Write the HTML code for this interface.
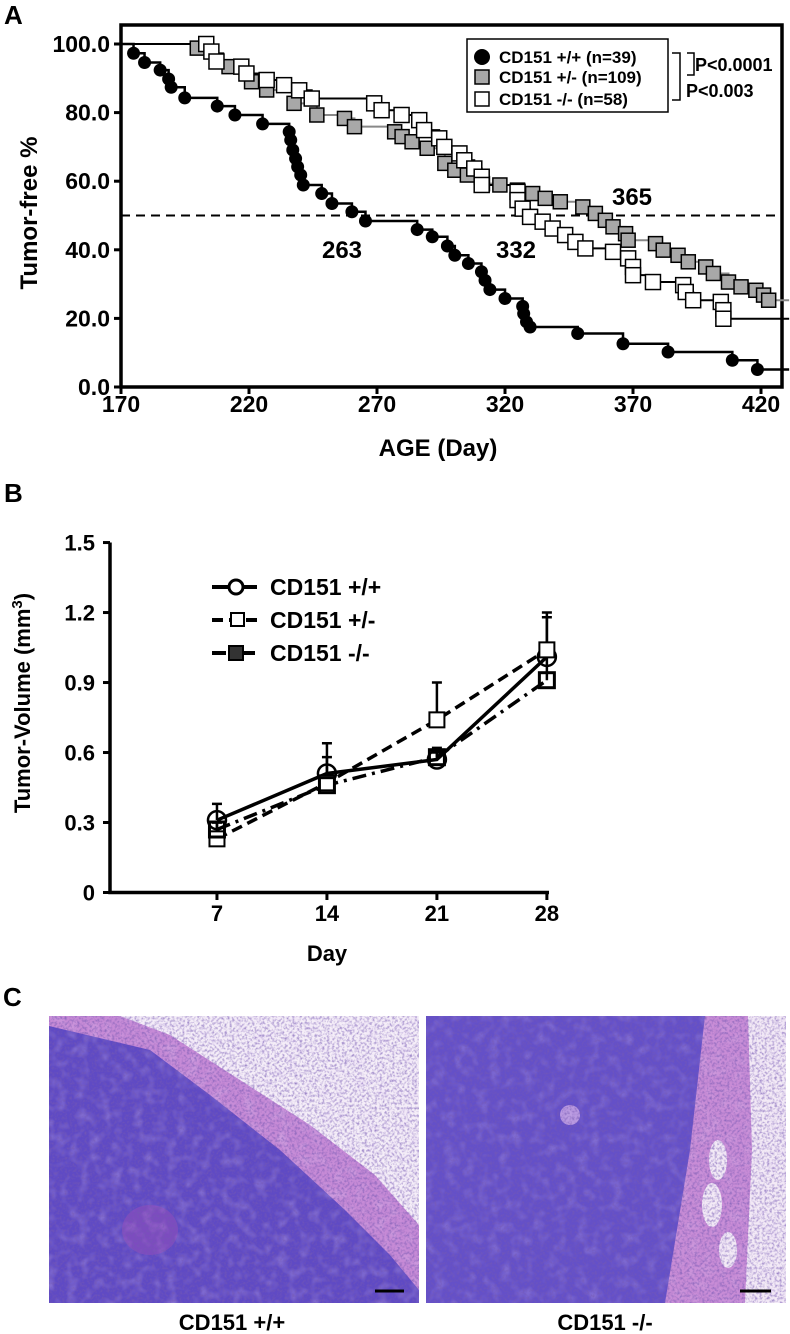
<!DOCTYPE html>
<html><head><meta charset="utf-8"><style>
html,body{margin:0;padding:0;background:#fff;width:790px;height:1334px;overflow:hidden}
svg{display:block}
text{font-family:"Liberation Sans",Arial,sans-serif;font-weight:bold;fill:#000}
</style></head><body>
<svg id="fig" width="790" height="1334" viewBox="0 0 790 1334" xmlns="http://www.w3.org/2000/svg">
<defs>
<filter id="tex" x="0" y="0" width="100%" height="100%">
<feTurbulence type="fractalNoise" baseFrequency="0.4" numOctaves="2" seed="5"/>
<feColorMatrix values="0 0 0 0 0.18  0 0 0 0 0.10  0 0 0 0 0.45  0 0 0 1.8 -0.75"/>
</filter>
<filter id="tex2" x="0" y="0" width="100%" height="100%">
<feTurbulence type="fractalNoise" baseFrequency="0.09" numOctaves="2" seed="9"/>
<feColorMatrix values="0 0 0 0 0.75  0 0 0 0 0.6  0 0 0 0 0.9  0 0 0 1.4 -0.65"/>
</filter>
<clipPath id="clipL"><rect x="49" y="1016" width="370" height="287"/></clipPath>
<clipPath id="clipR"><rect x="426" y="1016" width="360" height="287"/></clipPath>
</defs>
<g id="panelA"></g>
<g id="panelB"></g>
<g id="panelC">
 <text x="3" y="1006" font-size="26">C</text>
 <g clip-path="url(#clipL)">
  <rect x="49" y="1016" width="370" height="287" fill="#5f4ac4"/>
  <polygon points="49,1016 419,1016 419,1290 390,1255 345,1210 280,1150 210,1095 150,1050 49,1026" fill="#c68ad6"/>
  <polygon points="120,1016 419,1016 419,1225 375,1175 310,1125 240,1080 170,1035" fill="#f5eef8"/>
  <rect x="49" y="1016" width="370" height="287" filter="url(#tex2)" opacity="0.5"/>
  <ellipse cx="150" cy="1230" rx="28" ry="25" fill="#b54fb8" opacity="0.35"/>
  <rect x="49" y="1016" width="370" height="287" filter="url(#tex)" opacity="0.85"/>
  <line x1="375" y1="1291" x2="404" y2="1291" stroke="#000" stroke-width="3"/>
 </g>
 <g clip-path="url(#clipR)">
  <rect x="426" y="1016" width="360" height="287" fill="#6450c8"/>
  <polygon points="705,1016 786,1016 786,1303 665,1303 690,1150" fill="#c88cd6"/>
  <polygon points="748,1016 786,1016 786,1303 745,1303 752,1150" fill="#f3eaf6"/>
  <ellipse cx="718" cy="1160" rx="9" ry="20" fill="#f3eaf6"/>
  <ellipse cx="712" cy="1205" rx="10" ry="22" fill="#f3eaf6"/>
  <ellipse cx="728" cy="1250" rx="9" ry="18" fill="#f3eaf6"/>
  <ellipse cx="570" cy="1115" rx="10" ry="10" fill="#b898e0"/>
  <rect x="426" y="1016" width="360" height="287" filter="url(#tex2)" opacity="0.4"/>
  <rect x="426" y="1016" width="360" height="287" filter="url(#tex)" opacity="0.85"/>
  <line x1="740" y1="1291" x2="771" y2="1291" stroke="#000" stroke-width="3"/>
 </g>
 <text x="232" y="1330" font-size="22" text-anchor="middle">CD151 +/+</text>
 <text x="605" y="1330" font-size="22" text-anchor="middle">CD151 -/-</text>
</g>
</svg>
<script>
// ---------- Panel A data ----------
const wtDays = [174.9,179.2,185.3,188.6,189.6,194.9,207.6,214.5,225.3,235.7,236.3,237.1,238.2,239.0,240.2,241.2,248.4,252.4,260.2,265.5,285.7,291.6,297.5,300.4,305.7,310.8,312.2,314.1,320.0,326.9,327.3,328.4,329.8,348.4,366.1,383.7,408.8,418.6];
const wtPct = [97.3,94.6,92.4,89.8,87.4,84.3,81.9,79.3,76.7,74.4,72.0,69.1,66.6,64.2,61.8,58.9,56.4,53.5,51.1,48.4,45.9,43.8,41.1,38.4,36.0,33.6,31.1,28.4,25.8,23.5,21.4,19.0,17.5,15.6,12.6,10.2,7.8,5.1];
const hetDays = [199.8,207.3,212.2,221.0,226.9,237.6,246.5,257.3,261.2,276.9,279.8,283.7,289.6,296.5,300.4,305.3,311.2,318.0,324.9,330.8,335.7,341.6,350.4,355.3,359.2,362.2,367.1,368.1,378.8,381.8,387.6,391.6,398.4,401.4,407.3,412.2,418.0,421.0,423.0];
const hetPct = [98.8,95.3,93.4,89.0,86.6,82.7,79.3,78.3,75.9,74.4,73.0,71.5,69.6,65.2,63.2,61.8,59.3,58.9,57.4,56.4,55.0,54.0,52.5,50.6,48.6,46.7,44.7,42.8,41.8,39.9,38.4,36.5,35.0,33.1,30.6,29.2,28.2,26.8,25.3];
const koDays = [203.3,205.3,207.3,217.0,219.0,226.9,233.7,239.6,244.5,268.9,271.8,279.6,286.5,288.4,294.3,296.3,302.2,304.1,308.0,310.9,310.9,324.9,324.9,326.9,329.8,334.7,338.6,343.5,347.5,351.4,362.2,368.1,370.0,370.0,377.8,389.6,390.6,393.5,404.3,405.3,405.3];
const koPct = [100,97.8,94.9,93.4,91.4,89.5,88.0,86.5,84.1,82.7,80.7,79.3,77.8,74.9,72.5,70.0,68.1,66.1,63.7,61.3,58.9,56.9,54.5,52.0,49.6,48.2,46.2,44.3,42.3,40.4,39.4,37.5,35.0,32.6,30.6,29.7,27.7,25.3,24.8,22.4,19.9];
const aXTicks = [170,220,270,320,370,420];
const aYTicks = [0,20,40,60,80,100];
const aYTickLabels = ["0.0","20.0","40.0","60.0","80.0","100.0"];
const medians = [263,332,365];
const legendA = ["CD151 +/+ (n=39)","CD151 +/- (n=109)","CD151 -/- (n=58)"];
// ---------- Panel B data ----------
const bDays = [7,14,21,28];
const wtVol = [0.31,0.51,0.57,1.01];
const wtErr = [0.38,0.64,0.60,1.20];
const hetVol = [0.23,0.47,0.74,1.04];
const hetErr = [0.30,0.58,0.90,1.18];
const koVol = [0.27,0.46,0.58,0.91];
const koErr = [0.30,0.50,0.62,1.06];
const bYTicks = [0,0.3,0.6,0.9,1.2,1.5];
const bYTickLabels = ["0","0.3","0.6","0.9","1.2","1.5"];
const legendB = ["CD151 +/+","CD151 +/-","CD151 -/-"];

const NS = "http://www.w3.org/2000/svg";
function mk(parent, tag, attrs, txt){
  const e = document.createElementNS(NS, tag);
  for (const k in attrs) e.setAttribute(k, attrs[k]);
  if (txt !== undefined) e.textContent = txt;
  parent.appendChild(e);
  return e;
}
// ---------- Panel A ----------
const A = document.getElementById('panelA');
const ax = d => 121 + (d - 170) * 2.56;
const ay = p => 387 - p * 3.43;
let t = mk(A,'text',{x:4,y:24,'font-size':26},'A');


let fr = mk(A,'rect',{x:121,y:25,width:661,height:362,fill:'none',stroke:'#000','stroke-width':3.5});


aYTicks.forEach((v,i)=>{
  const tk = mk(A,'line',{x1:114,x2:121,y1:ay(v),y2:ay(v),stroke:'#000','stroke-width':3});
  
  
  const l = mk(A,'text',{x:110,y:ay(v)+8,'font-size':23,'text-anchor':'end'},aYTickLabels[i]);
  
  
});
aXTicks.forEach(v=>{
  const tk = mk(A,'line',{x1:ax(v),x2:ax(v),y1:387,y2:394,stroke:'#000','stroke-width':3});
  
  
  const l = mk(A,'text',{x:ax(v),y:412,'font-size':23,'text-anchor':'middle'},String(v));
  
  
});
t = mk(A,'text',{x:438,y:456,'font-size':24,'text-anchor':'middle'},'AGE (Day)');


t = mk(A,'text',{x:0,y:0,'font-size':24,'text-anchor':'middle',transform:'translate(37,213) rotate(-90)'},'Tumor-free %');


let dl = mk(A,'line',{x1:121,x2:782,y1:ay(50),y2:ay(50),stroke:'#000','stroke-width':2,'stroke-dasharray':'9,6'});


function stepPath(days, pct, start, endDay){
  let d = 'M'+ax(170)+','+ay(start);
  days.forEach((x,i)=>{ d += ' L'+ax(x)+','+ay(i===0?start:pct[i-1])+' L'+ax(x)+','+ay(pct[i]); });
  d += ' L'+ax(endDay)+','+ay(pct[pct.length-1]);
  return d;
}
function curve(name, days, pct, start, color, lw){
  const p = mk(A,'path',{d:stepPath(days,pct,start,431),fill:'none',stroke:color,'stroke-width':lw});
  
  
}
curve('het-curve', hetDays, hetPct, 100, '#888', 2);
curve('ko-curve', koDays, koPct, 100, '#000', 2);
curve('wt-curve', wtDays, wtPct, 100, '#000', 2.5);
hetDays.forEach((d,i)=>{
  const r = mk(A,'rect',{x:ax(d)-7,y:ay(hetPct[i])-7,width:14,height:14,fill:'#a8a8a8',stroke:'#000','stroke-width':1.5});
  
  
});
koDays.forEach((d,i)=>{
  const r = mk(A,'rect',{x:ax(d)-7.5,y:ay(koPct[i])-7.5,width:15,height:15,fill:'#fff',stroke:'#000','stroke-width':1.5});
  
  
});
wtDays.forEach((d,i)=>{
  const c = mk(A,'circle',{cx:ax(d),cy:ay(wtPct[i]),r:6.5,fill:'#000'});
  
  
});
const medPos = [[342,258],[516,258],[632,205]];
medians.forEach((m,i)=>{
  const l = mk(A,'text',{x:medPos[i][0],y:medPos[i][1],'font-size':24,'text-anchor':'middle'},String(m));
  
  
});
let lb = mk(A,'rect',{x:467,y:39,width:201,height:73,fill:'#fff',stroke:'#000','stroke-width':1.5});


const rowsY=[57,77,99];
legendA.forEach((s,i)=>{
  let m;
  if(i===0) m = mk(A,'circle',{cx:482,cy:rowsY[i],r:8,fill:'#000'});
  else m = mk(A,'rect',{x:475,y:rowsY[i]-7,width:14,height:14,fill:i===1?'#a8a8a8':'#fff',stroke:'#000','stroke-width':1.5});
  
  
  const l = mk(A,'text',{x:499,y:rowsY[i]+6,'font-size':17},s);
  
  
});
let br = mk(A,'path',{d:'M672,53 L680,53 L680,100 L672,100 M687,53 L694,53 L694,75 L687,75',fill:'none',stroke:'#000','stroke-width':1.5});


t = mk(A,'text',{x:695,y:71,'font-size':18},'P<0.0001');


t = mk(A,'text',{x:686,y:97,'font-size':18},'P<0.003');



// ---------- Panel B ----------
const B = document.getElementById('panelB');
const bx = d => 107 + d * 15.71;
const by = v => 892.5 - v * 233.3;
t = mk(B,'text',{x:4,y:502,'font-size':26},'B');


let axl = mk(B,'path',{d:'M110,'+by(1.5)+' L110,892.5 L549,892.5',fill:'none',stroke:'#000','stroke-width':3.5});


bYTicks.forEach((v,i)=>{
  const tk = mk(B,'line',{x1:103,x2:110,y1:by(v),y2:by(v),stroke:'#000','stroke-width':3});
  
  
  const l = mk(B,'text',{x:95,y:by(v)+8,'font-size':22,'text-anchor':'end'},bYTickLabels[i]);
  
  
});
bDays.forEach(d=>{
  const tk = mk(B,'line',{x1:bx(d),x2:bx(d),y1:892.5,y2:900,stroke:'#000','stroke-width':3});
  
  
  const l = mk(B,'text',{x:bx(d),y:921,'font-size':22,'text-anchor':'middle'},String(d));
  
  
});
t = mk(B,'text',{x:327,y:961,'font-size':22,'text-anchor':'middle'},'Day');


t = mk(B,'text',{x:0,y:0,'font-size':22,'text-anchor':'middle',transform:'translate(30,703) rotate(-90)'});


t.appendChild(document.createTextNode('Tumor-Volume (mm'));
const sup = mk(t,'tspan',{dy:-8,'font-size':15},'3');
const cl = mk(t,'tspan',{dy:8},')');
const seriesB = [
  {name:'wt', v:wtVol, e:wtErr, dash:'none', lw:3.5},
  {name:'het', v:hetVol, e:hetErr, dash:'11,6', lw:3.5},
  {name:'ko', v:koVol, e:koErr, dash:'14,6,3,6', lw:3.5}
];
seriesB.forEach(s=>{
  s.v.forEach((v,i)=>{
    const eb = mk(B,'path',{d:'M'+bx(bDays[i])+','+by(v)+' L'+bx(bDays[i])+','+by(s.e[i])+' M'+(bx(bDays[i])-5)+','+by(s.e[i])+' L'+(bx(bDays[i])+5)+','+by(s.e[i]),stroke:'#000','stroke-width':2.5,fill:'none'});
    
    
  });
});
seriesB.forEach(s=>{
  const pts = s.v.map((v,i)=>bx(bDays[i])+','+by(v)).join(' ');
  const pl = mk(B,'polyline',{points:pts,fill:'none',stroke:'#000','stroke-width':s.lw,'stroke-dasharray':s.dash});
  
  
});
seriesB.forEach(s=>{
  s.v.forEach((v,i)=>{
    let m;
    const cx=bx(bDays[i]), cy=by(v);
    if(s.name==='wt') m = mk(B,'circle',{cx:cx,cy:cy,r:9,fill:'none',stroke:'#000','stroke-width':2.5});
    else if(s.name==='het') m = mk(B,'rect',{x:cx-7.5,y:cy-7.5,width:15,height:15,fill:'#fff',stroke:'#000','stroke-width':2});
    else m = mk(B,'rect',{x:cx-7.5,y:cy-7.5,width:15,height:15,fill:'none',stroke:'#000','stroke-width':3});
    
    
  });
});
const lrows=[587,620,653];
legendB.forEach((s,i)=>{
  const ln = mk(B,'line',{x1:212,x2:257,y1:lrows[i],y2:lrows[i],stroke:'#000','stroke-width':4,'stroke-dasharray':seriesB[i].dash});
  
  
  let m;
  if(i===0) m = mk(B,'circle',{cx:236,cy:lrows[i],r:7,fill:'#fff',stroke:'#000','stroke-width':3});
  else if(i===1) m = mk(B,'rect',{x:231,y:lrows[i]-7,width:13,height:13,fill:'#fff',stroke:'#000','stroke-width':2});
  else m = mk(B,'rect',{x:229,y:lrows[i]-7,width:14,height:14,fill:'#333',stroke:'#000','stroke-width':2});
  
  
  const l = mk(B,'text',{x:270,y:lrows[i]+8,'font-size':23},s);
  
  
});
</script>
</body></html>
